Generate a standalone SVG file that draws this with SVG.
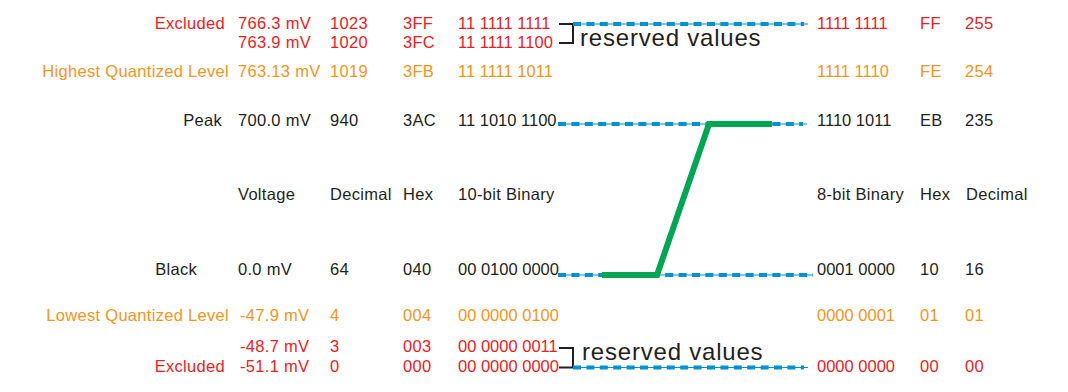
<svg xmlns="http://www.w3.org/2000/svg" width="1068" height="392" viewBox="0 0 1068 392">
<style>
text{font-family:"Liberation Sans",Arial,sans-serif;font-size:16.5px;letter-spacing:0.3px}
.r{fill:#ed1c24}.o{fill:#f7941d}.k{fill:#231f20}
.lbl{text-anchor:end}
text.b{letter-spacing:0}
.res{font-size:24px;letter-spacing:0.8px;fill:#231f20}
.base{stroke:#0090d4;stroke-width:1.2;fill:none}
.dash{stroke:#0090d4;stroke-width:4;stroke-dasharray:8 5.4;fill:none}
.br{stroke:#231f20;stroke-width:2;fill:none}
.grn{stroke:#00a651;stroke-width:6;fill:none;stroke-linejoin:miter;stroke-linecap:butt}
</style>
<rect width="1068" height="392" fill="#fff"/>
<g id="connectors">
<path class="br" d="M559,24 H573 V43 H559"/>
<path class="br" d="M559,348 H573 V367.5 H559"/>
<line class="base" x1="573" y1="24" x2="808" y2="24"/>
<line class="dash" x1="573" y1="24" x2="804" y2="24"/>
<line class="base" x1="558" y1="124" x2="807" y2="124"/>
<line class="dash" x1="558" y1="124" x2="803" y2="124"/>
<line class="base" x1="558" y1="275" x2="813" y2="275"/>
<line class="dash" x1="558" y1="275" x2="813" y2="275"/>
<line class="base" x1="573" y1="367.5" x2="808" y2="367.5"/>
<line class="dash" x1="573" y1="367.5" x2="804" y2="367.5"/>
<path class="grn" d="M602,275 L657,275 L709,124 L772,124"/>
</g>
<g id="excluded-top" class="r">
<text class="lbl" x="225" y="29">Excluded</text>
<text x="238" y="29">766.3 mV</text>
<text x="330" y="29">1023</text>
<text x="403" y="29">3FF</text>
<text class="b" x="458" y="29">11 1111 1111</text>
<text class="b" x="817" y="29">1111 1111</text>
<text x="920" y="29">FF</text>
<text x="965" y="29">255</text>
</g>
<g id="reserved-top" class="r">
<text x="238" y="48">763.9 mV</text>
<text x="330" y="48">1020</text>
<text x="403" y="48">3FC</text>
<text class="b" x="458" y="48">11 1111 1100</text>
</g>
<text id="reserved-label-top" class="res" x="580" y="46">reserved values</text>
<g id="highest" class="o">
<text class="lbl" x="229" y="77">Highest Quantized Level</text>
<text x="238" y="77">763.13 mV</text>
<text x="330" y="77">1019</text>
<text x="403" y="77">3FB</text>
<text class="b" x="458" y="77">11 1111 1011</text>
<text class="b" x="817" y="77">1111 1110</text>
<text x="920" y="77">FE</text>
<text x="965" y="77">254</text>
</g>
<g id="peak" class="k">
<text class="lbl" x="222" y="126">Peak</text>
<text x="238" y="126">700.0 mV</text>
<text x="330" y="126">940</text>
<text x="403" y="126">3AC</text>
<text class="b" x="458" y="126">11 1010 1100</text>
<text class="b" x="817" y="126">1110 1011</text>
<text x="920" y="126">EB</text>
<text x="965" y="126">235</text>
</g>
<g id="header" class="k">
<text x="238" y="200">Voltage</text>
<text x="330" y="200">Decimal</text>
<text x="403" y="200">Hex</text>
<text x="458" y="200">10-bit Binary</text>
<text x="817" y="200">8-bit Binary</text>
<text x="920" y="200">Hex</text>
<text x="966" y="200">Decimal</text>
</g>
<g id="black" class="k">
<text class="lbl" x="197" y="275">Black</text>
<text x="238" y="275">0.0 mV</text>
<text x="330" y="275">64</text>
<text x="403" y="275">040</text>
<text class="b" x="458" y="275">00 0100 0000</text>
<text class="b" x="817" y="275">0001 0000</text>
<text x="920" y="275">10</text>
<text x="965" y="275">16</text>
</g>
<g id="lowest" class="o">
<text class="lbl" x="229" y="321">Lowest Quantized Level</text>
<text x="240" y="321">-47.9 mV</text>
<text x="330" y="321">4</text>
<text x="403" y="321">004</text>
<text class="b" x="458" y="321">00 0000 0100</text>
<text class="b" x="817" y="321">0000 0001</text>
<text x="920" y="321">01</text>
<text x="965" y="321">01</text>
</g>
<g id="reserved-bottom" class="r">
<text x="240" y="352">-48.7 mV</text>
<text x="330" y="352">3</text>
<text x="403" y="352">003</text>
<text class="b" x="458" y="352">00 0000 0011</text>
</g>
<text id="reserved-label-bottom" class="res" x="582" y="360">reserved values</text>
<g id="excluded-bottom" class="r">
<text class="lbl" x="225" y="372">Excluded</text>
<text x="240" y="372">-51.1 mV</text>
<text x="330" y="372">0</text>
<text x="403" y="372">000</text>
<text class="b" x="458" y="372">00 0000 0000</text>
<text class="b" x="817" y="372">0000 0000</text>
<text x="920" y="372">00</text>
<text x="965" y="372">00</text>
</g>
</svg>
